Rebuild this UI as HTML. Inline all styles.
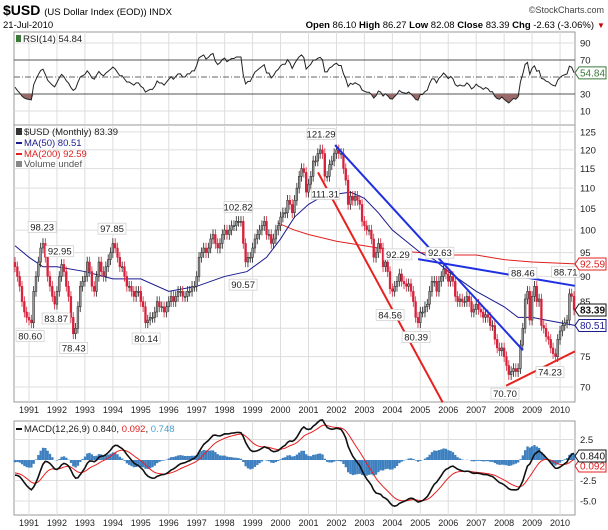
<!DOCTYPE html>
<html><head><meta charset="utf-8"><style>
body{margin:0;background:#fff;}
svg{display:block;font-family:"Liberation Sans",sans-serif;}
</style></head><body>
<svg id="c" width="608" height="530" viewBox="0 0 608 530">
<text x="3" y="15" font-size="14" font-weight="bold">$USD <tspan font-size="9.5" font-weight="normal">(US Dollar Index (EOD)) INDX</tspan></text>
<text x="604" y="13" font-size="9" fill="#444" text-anchor="end">©StockCharts.com</text>
<text x="3" y="28" font-size="9.5">21-Jul-2010</text>
<text x="594" y="28" font-size="9.5" text-anchor="end"><tspan font-weight="bold">Open</tspan> 86.10 <tspan font-weight="bold">High</tspan> 86.27 <tspan font-weight="bold">Low</tspan> 82.08 <tspan font-weight="bold">Close</tspan> 83.39 <tspan font-weight="bold">Chg</tspan> -2.63 (-3.06%)</text>
<text x="597" y="28" font-size="8" fill="#c00">▼</text>
<g id="g"></g>
</svg>
<script>
const closes=[92,90,88,85,83,82,
81.5,81,87,90,93,96,97,94,90,88,86,84.5,
87,90,92.5,91,88,86,82,79,80,84,88,89,
90,93,91,88,87,90,93,91,90,92,93.5,95,
97,96,94,92,92,90,88,88,87,86,87,87,
85,84,81,81.5,82,82,83,85,84,84,83,84,
85,86,85,86,87,87,86,86,87,87,88,88,
90,94,95,96,95,96,98,99,97,96,97,99,
100,99,100,101,101,102,102,102,97,93,94,94,
96,98,99,100,101,102,99,99,97,98,100,101,
103,104,104,107,106,104,107,110,113,115,114,109,
111,113,117,117,119,120,119,113,113,116,117,119,
120,119,119,115,112,106,108,107,108,107,106,102,
101,100,100,98,94,95,97,96,92,93,91,87.5,
87,88,89,90.5,89,88.5,88,88.5,87,85,82,81,
83,83,84,84.5,87,89,89,87,89,90,91.5,90.5,
89,90,89,86,85,85.5,85,85,86,85,83,83.5,
84.5,83.5,83,82,82.5,82,80.5,80.5,78,76.5,76,76.5,
75,73.5,72,72.5,73,72.5,73,77,80,85.5,87,81.5,
86,88,85,85.5,80.5,80,78.5,78,76.5,75.5,75,78,
79.5,80.5,81,81.5,86.5,86,83.4];
const years=[1991,1992,1993,1994,1995,1996,1997,1998,1999,2000,2001,2002,2003,2004,2005,2006,2007,2008,2009,2010];
const priceTicks=[70,75,80,85,90,95,100,105,110,115,120,125];
const rsiTicks=[10,30,70,90];
const macdTicks=[2.5,-2.5,-5.0];
const ma50Dates=[1990.5,1991,1991.5,1992,1993,1994,1995,1996,1997,1998,1998.8,1999.5,2000,2000.5,2001,2001.5,2002,2002.5,2003,2003.5,2004,2005,2005.5,2006,2007,2008,2008.5,2009,2009.5,2010.55];
const ma50Vals=[96.5,94,92,92,91,89.5,89.5,87,88,90,91,94,98,103,106,108,108.5,109,107.5,104,100,95,93.5,91,87,84,82,82,81.5,80.5];
const ma200Dates=[1999.9,2000.5,2001,2002,2003,2004,2005,2006,2007,2008,2009,2010.55];
const ma200Vals=[101.6,100,99,97.5,96.5,95.5,95,94.5,94.5,93.5,93,92.6];
const trendDates=[[2001.34,2005.8],[2001.95,2008.67],[2004.92,2010.53],[2008.07,2010.53]];
const trendPrices=[[114,67.6],[121.3,76.1],[93.6,88.1],[70.2,75.9]];
const trendColors=['#e8201e','#1e30e0','#1e30e0','#e8201e'];
const pivotDates=[1991.04,1991.47,1991.97,1992.1,1992.6,1993.97,1995.19,1998.48,1998.66,2001.45,2001.6,2003.92,2004.2,2004.85,2005.7,2008.03,2008.67,2009.64,2010.2];
const pivotPrices=[80.60,98.23,83.87,92.95,78.43,97.85,80.14,102.82,90.57,121.29,111.31,84.56,92.29,80.39,92.63,70.70,88.46,74.23,88.71];
const pivotPos=['b','a','b','a','b','a','b','a','b','a','b','b','a','b','a','b','a','b','a'];

const NS='http://www.w3.org/2000/svg';
const G=document.getElementById('g');
function mk(t,a,p){const e=document.createElementNS(NS,t);for(const k in a)e.setAttribute(k,a[k]);(p||G).appendChild(e);return e;}
const L=14,R=575;
const xOf=t=>29+(t-1991)*27.95;
const tOf=i=>1990.5+i/12;
const yP=p=>387-440*Math.log(p/70);
const yR=v=>60+(70-v)*0.85;
const yM=v=>460-v*8.2;
const panels=[[32,125],[125,402],[421,515]];

panels.forEach((p,k)=>{
  const r=mk('rect',{x:L,y:p[0],width:R-L,height:p[1]-p[0],fill:'#fff',stroke:'#999','stroke-width':1});
  
  
  years.forEach(y=>{mk('line',{x1:xOf(y),x2:xOf(y),y1:p[0],y2:p[1],stroke:'#ddd'});});
});
priceTicks.forEach(v=>{
  mk('line',{x1:L,x2:R,y1:yP(v),y2:yP(v),stroke:'#ddd'});
  const t=mk('text',{x:580,y:yP(v)+3.5,'font-size':9.5,fill:'#222'});t.textContent=v;
  
  
});
rsiTicks.forEach(v=>{
  const ln=(v==30||v==70);
  mk('line',{x1:L,x2:R,y1:yR(v),y2:yR(v),stroke:ln?'#555':'#ddd'});
  const t=mk('text',{x:580,y:yR(v)+3.5,'font-size':9.5,fill:'#222'});t.textContent=v;
  
  
});
mk('line',{x1:L,x2:R,y1:yR(50),y2:yR(50),stroke:'#666','stroke-dasharray':'6,2,1,2'});
macdTicks.forEach(v=>{
  mk('line',{x1:L,x2:R,y1:yM(v),y2:yM(v),stroke:'#ddd'});
  const t=mk('text',{x:580,y:yM(v)+3.5,'font-size':9.5,fill:'#222'});t.textContent=v.toFixed(1);
  
  
});
[413,526].forEach(yy=>years.forEach(y=>{
  const t=mk('text',{x:xOf(y),y:yy,'font-size':9,'text-anchor':'middle',fill:'#222'});t.textContent=y;
  
  
}));

function poly(ds,vs,col,w,name){
  const e=mk('polyline',{points:ds.map((d,i)=>xOf(d)+','+yP(vs[i])).join(' '),fill:'none',stroke:col,'stroke-width':w});
  
  
}
poly(ma200Dates,ma200Vals,'#e02020',1,'ma200-line');
poly(ma50Dates,ma50Vals,'#1a1a90',1,'ma50-line');

closes.forEach((c,i)=>{
  const o=i?closes[i-1]:c*1.01;
  const hi=Math.max(o,c)*1.012, lo=Math.min(o,c)*0.988;
  const x=xOf(tOf(i)), col=(c<o)?'#d8203a':'#222';
  const g=mk('g',{});
  
  
  mk('line',{x1:x,x2:x,y1:yP(hi),y2:yP(lo),stroke:col,'stroke-width':0.8},g);
  const t=Math.min(yP(o),yP(c)),h=Math.max(1,Math.abs(yP(o)-yP(c)));
  mk('rect',{x:x-0.9,y:t,width:1.8,height:h,fill:c<o?col:'#999',stroke:col,'stroke-width':0.5},g);
});

trendDates.forEach((d,k)=>{
  const e=mk('line',{x1:xOf(d[0]),y1:yP(trendPrices[k][0]),x2:xOf(d[1]),y2:yP(trendPrices[k][1]),stroke:trendColors[k],'stroke-width':2});
  
  
});

pivotDates.forEach((d,k)=>{
  const x=xOf(d),yp=yP(pivotPrices[k]),cy=pivotPos[k]=='a'?yp-11:yp+11;
  const g=mk('g',{});
  
  
  const s=pivotPrices[k].toFixed(2);
  mk('rect',{x:x-14,y:cy-5.5,width:28,height:11,fill:'#fff',stroke:'#ccc','stroke-width':0.7},g);
  const t=mk('text',{x:x,y:cy+3.5,'font-size':9.5,'text-anchor':'middle',fill:'#222'},g);t.textContent=s;
});

// RSI from closes (seeded)
const rsi=[[0,38]];let ag=0.6,al=1.0;
for(let i=1;i<closes.length;i++){
  const ch=closes[i]-closes[i-1],gn=Math.max(ch,0),ls=Math.max(-ch,0);
  ag=(ag*13+gn)/14;al=(al*13+ls)/14;
  rsi.push([i,al==0?100:100-100/(1+ag/al)]);
}
// oversold fill
const fp=rsi.map(r=>xOf(tOf(r[0]))+','+Math.max(yR(r[1]),yR(30)));
const fl=mk('polygon',{points:xOf(tOf(0))+','+yR(30)+' '+fp.join(' ')+' '+xOf(tOf(rsi.length-1))+','+yR(30),fill:'#9a6a6a',stroke:'none'});


const rp=rsi.map(r=>xOf(tOf(r[0]))+','+yR(r[1]));
const rl=mk('polyline',{points:rp.join(' '),fill:'none',stroke:'#222','stroke-width':1});



// MACD from closes (seeded)
let e12=closes[0],e26=closes[0]+2,sig=-1.5;const mac=[],sg=[];
closes.forEach((c,i)=>{e12+=(c-e12)*2/13;e26+=(c-e26)*2/27;const m=e12-e26;sig+=(m-sig)*0.2;mac.push(m);sg.push(sig);});
mac.forEach((m,i)=>{
  const h=m-sg[i],x=xOf(tOf(i));
  const b=mk('rect',{x:x-1.1,y:Math.min(yM(0),yM(h)),width:2.3,height:Math.abs(yM(h)-yM(0)),fill:'#3d7fbf'});
  
  
});
const sl=mk('polyline',{points:sg.map((v,i)=>xOf(tOf(i))+','+yM(v)).join(' '),fill:'none',stroke:'#e82020','stroke-width':1});


const ml=mk('polyline',{points:mac.map((v,i)=>xOf(tOf(i))+','+yM(v)).join(' '),fill:'none',stroke:'#111','stroke-width':1.6});



function txt(x,y,s,col,name,fs){const t=mk('text',{x:x,y:y,'font-size':fs||9.5,fill:col||'#222'});t.textContent=s;return t;}
txt(23,42,'RSI(14) 54.84','#222','rsi-legend');
mk('rect',{x:16,y:35,width:5,height:7,fill:'#3a7a3a'});
txt(24,135,'$USD (Monthly) 83.39','#222','price-legend');
mk('rect',{x:16,y:128,width:6,height:7,fill:'#333'});
txt(24,146,'MA(50) 80.51','#1a1a90','ma50-legend');
mk('rect',{x:16,y:142,width:6,height:2,fill:'#1a1a90'});
txt(24,157,'MA(200) 92.59','#e02020','ma200-legend');
mk('rect',{x:16,y:153,width:6,height:2,fill:'#e02020'});
txt(24,167,'Volume undef','#555','volume-legend');
mk('rect',{x:16,y:161,width:6,height:6,fill:'#888'});
const mt=txt(24,432,'MACD(12,26,9) 0.840, ','#222','macd-legend');
const s1=mk('tspan',{fill:'#e02020'},mt);s1.textContent='0.092';
const s2=mk('tspan',{fill:'#222'},mt);s2.textContent=', ';
const s3=mk('tspan',{fill:'#4aa0d0'},mt);s3.textContent='0.748';
mk('rect',{x:16,y:428,width:6,height:2,fill:'#111'});

function tag(y,s,col,bold,name){
  const g=mk('g',{});
  
  
  mk('polygon',{points:`575,${y} 579,${y-6} 606,${y-6} 606,${y+6} 579,${y+6}`,fill:'#fff',stroke:col,'stroke-width':1},g);
  const t=mk('text',{x:580,y:y+3.5,'font-size':10,fill:col,'font-weight':bold?'bold':'normal'},g);t.textContent=s;
}
tag(yP(92.59),'92.59','#e02020',false,'ma200-value-tag');
tag(yP(83.39),'83.39','#111',true,'close-value-tag');
tag(yP(80.51),'80.51','#1a1a90',false,'ma50-value-tag');
tag(yR(54.84),'54.84','#3a7a3a',false,'rsi-value-tag');
tag(466,'0.092','#e02020',false,'signal-value-tag');
tag(456,'0.840','#111',false,'macd-value-tag');
</script>
</body></html>
